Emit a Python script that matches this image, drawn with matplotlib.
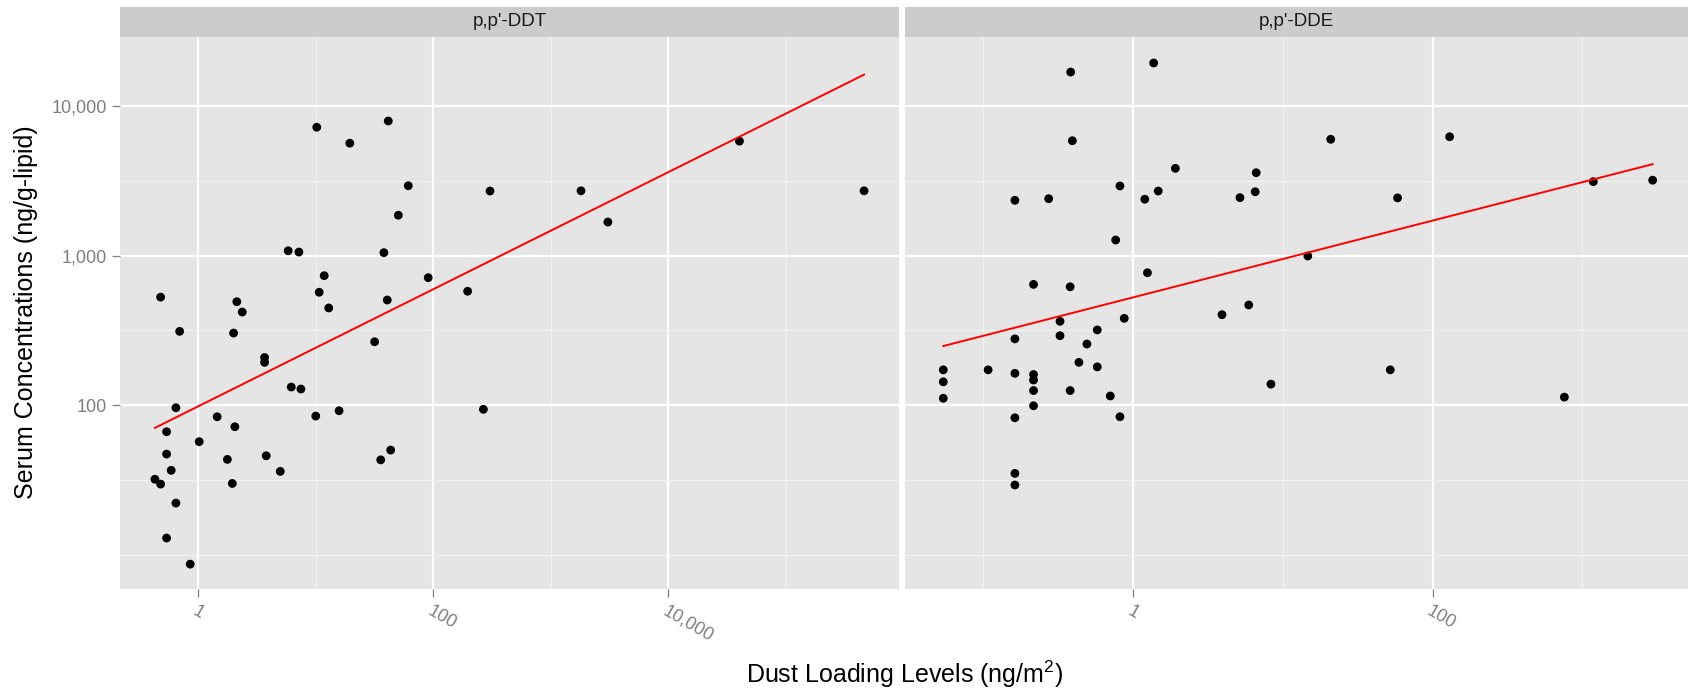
import numpy as np
import matplotlib
matplotlib.use("Agg")
import matplotlib.pyplot as plt
from matplotlib.ticker import FixedLocator, NullFormatter

plt.rcParams['font.family'] = ['Liberation Sans', 'DejaVu Sans']
plt.rcParams['mathtext.fontset'] = 'custom'
plt.rcParams['mathtext.rm'] = 'Liberation Sans'
plt.rcParams['mathtext.it'] = 'Liberation Sans:italic'

# ---------------- data ----------------
panel_titles = ["p,p'-DDT", "p,p'-DDE"]

ddt_dust = [10.2, 41.4, 19.5, 61.3, 304, 50.4, 5.83, 7.19, 38.0, 11.8,
            90.6, 0.479, 2.13, 10.7, 196, 40.6, 2.37, 12.9, 0.695, 2.0,
            31.7, 3.67, 3.67, 6.19, 7.48, 0.646, 10.0, 15.8, 267, 1.45,
            2.05, 0.538, 1.02, 0.538, 43.4, 35.7, 1.77, 3.79, 0.589, 4.99,
            0.428, 0.479, 1.95, 0.646, 0.538, 0.855, 1807, 3060, 40300, 463000]
ddt_serum = [7210, 7940, 5640, 2930, 2700, 1860, 1076, 1055, 1045, 733,
             711, 527, 491, 568, 577, 504, 419, 446, 311, 303,
             265, 208, 193, 132, 128, 95.9, 84.4, 91.6, 93.6, 83.5,
             71.6, 66.3, 56.9, 47.0, 50.0, 43.0, 43.3, 45.8, 36.6, 36.0,
             31.9, 29.6, 29.9, 22.1, 12.9, 8.63, 2710, 1675, 5820, 2710]

dde_dust = [0.384, 1.375, 0.394, 1.92, 6.65, 0.819, 1.475, 6.55, 0.163, 0.274,
            1.20, 5.18, 0.767, 1.25, 0.217, 0.381, 0.326, 0.875, 0.578, 0.163,
            0.326, 0.493, 0.436, 0.578, 0.0542, 0.108, 0.163, 0.217, 0.0542, 0.217,
            0.217, 0.381, 0.0542, 0.706, 0.217, 0.163, 0.819, 0.163, 0.163, 20.9,
            130, 58.4, 1183, 2945, 14.7, 5.93, 3.93, 8.34, 52.2, 758]
dde_serum = [16870, 19400, 5860, 3830, 3580, 2920, 2700, 2670, 2340, 2400,
             2380, 2440, 1270, 767, 641, 618, 363, 380, 318, 277,
             291, 256, 193, 180, 172, 172, 163, 160, 143, 147,
             125, 125, 111, 115, 98.9, 82.2, 83.5, 34.9, 29.2, 5990,
             6230, 2430, 3120, 3190, 993, 467, 402, 138, 172, 113]

x_major = [[1, 100, 10000], [1, 100]]
x_major_labels = [["1", "100", "10,000"], ["1", "100"]]
x_minor = [[10, 1000, 100000], [0.1, 10, 1000]]
y_major = [100, 1000, 10000]
y_major_labels = ["100", "1,000", "10,000"]
y_minor = [10, 10 ** 1.5, 10 ** 2.5, 10 ** 3.5]

x_limits = [(0.216, 918000), (0.0301, 5070)]
y_limits = (5.93, 29080)

# ---------------- layout ----------------
W, H = 1690, 694
fig = plt.figure(figsize=(W / 100, H / 100), dpi=100)

panel_top, panel_bot, strip_top = 36.7, 588.5, 7.3
panels = [(120, 899), (905, 1688)]

grey_txt = '#7F7F7F'
datasets = [(ddt_dust, ddt_serum), (dde_dust, dde_serum)]

for i, ((l, r), (xd, yd)) in enumerate(zip(panels, datasets)):
    ax = fig.add_axes([l / W, 1 - panel_bot / H, (r - l) / W, (panel_bot - panel_top) / H])
    ax.set_facecolor('#E5E5E5')
    for s in ax.spines.values():
        s.set_visible(False)
    ax.set_xscale('log')
    ax.set_yscale('log')
    ax.set_xlim(*x_limits[i])
    ax.set_ylim(*y_limits)
    ax.xaxis.set_major_locator(FixedLocator(x_major[i]))
    ax.xaxis.set_minor_locator(FixedLocator(x_minor[i]))
    ax.xaxis.set_minor_formatter(NullFormatter())
    ax.yaxis.set_major_locator(FixedLocator(y_major))
    ax.yaxis.set_minor_locator(FixedLocator(y_minor))
    ax.yaxis.set_minor_formatter(NullFormatter())
    ax.grid(which='major', color='white', linewidth=1.6)
    ax.grid(which='minor', color='#F2F2F2', linewidth=0.8)
    ax.set_axisbelow(True)
    ax.tick_params(which='minor', length=0)
    ax.tick_params(which='major', colors=grey_txt, width=0.9, length=6, labelsize=13)
    ax.tick_params(axis='x', which='major', pad=4)
    ax.tick_params(axis='y', which='major', pad=3.5)
    ax.set_xticklabels(x_major_labels[i], rotation=-30, ha='left', va='top',
                       rotation_mode='anchor', color=grey_txt)
    if i == 0:
        ax.set_yticklabels(y_major_labels, color=grey_txt)
    else:
        ax.tick_params(axis='y', which='both', length=0, labelleft=False)

    xd = np.asarray(xd, float)
    yd = np.asarray(yd, float)
    ax.scatter(xd, yd, s=40, color='black', edgecolors='none', zorder=3)
    slope, intercept = np.polyfit(np.log10(xd), np.log10(yd), 1)
    xs = np.array([xd.min(), xd.max()])
    ax.plot(xs, 10 ** (intercept + slope * np.log10(xs)), color='#FF0000', lw=1.4, zorder=4)

    sax = fig.add_axes([l / W, 1 - panel_top / H, (r - l) / W, (panel_top - strip_top) / H])
    sax.set_facecolor('#CCCCCC')
    sax.set_xticks([])
    sax.set_yticks([])
    for s in sax.spines.values():
        s.set_visible(False)
    sax.text(0.5, 0.5, panel_titles[i], ha='center', va='center', fontsize=13.5,
             color='#1A1A1A', transform=sax.transAxes)

fig.text(26 / W, 1 - 312.6 / H, 'Serum Concentrations (ng/g-lipid)', rotation=90,
         ha='center', va='center', fontsize=18)
fig.text(904 / W, 1 - 683 / H, 'Dust Loading Levels (ng/m$^{2}$)',
         ha='center', va='baseline', fontsize=18)

fig.savefig('out.png', dpi=100, facecolor='white')
